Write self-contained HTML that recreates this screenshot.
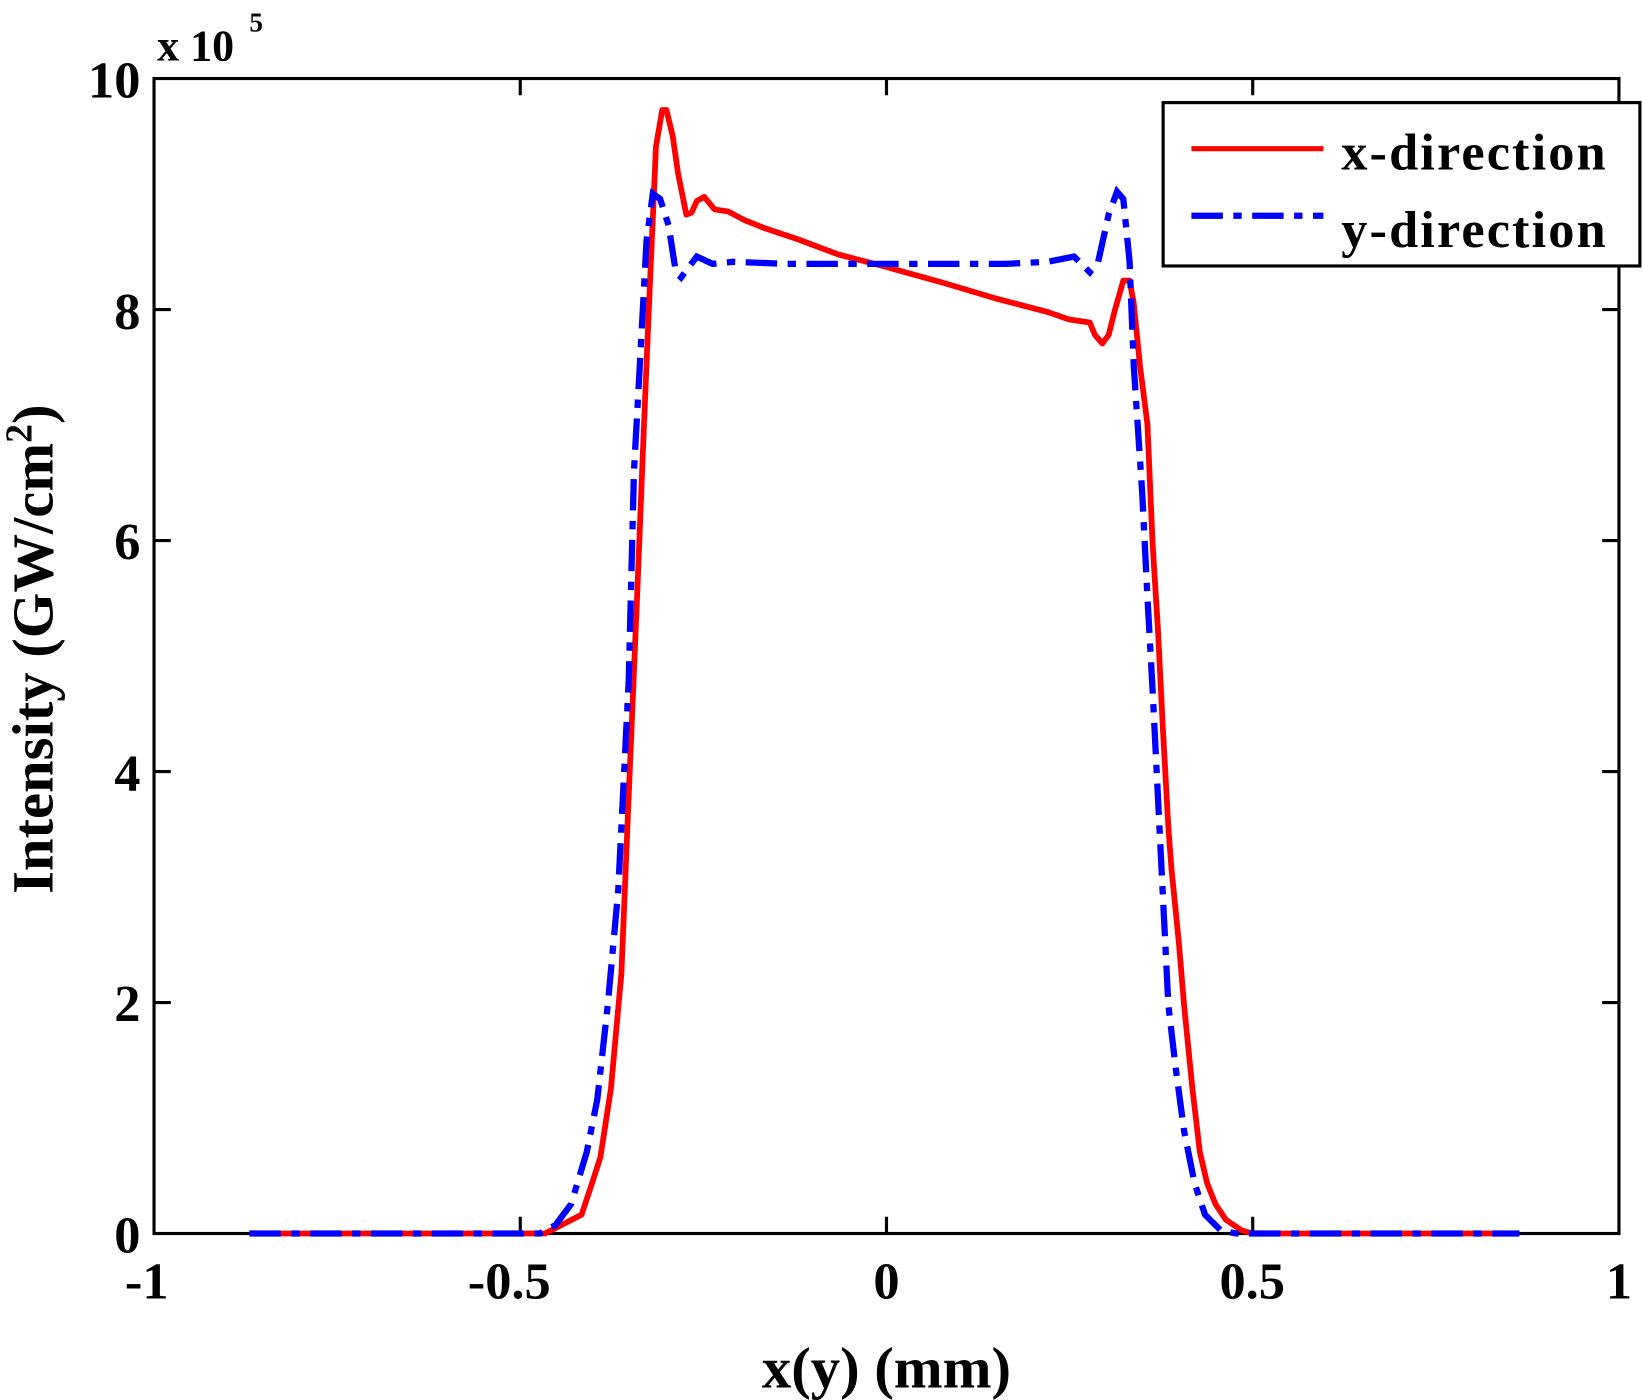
<!DOCTYPE html>
<html><head><meta charset="utf-8"><style>html,body{margin:0;padding:0;background:#fff}svg{display:block}</style></head>
<body>
<svg width="1642" height="1400" viewBox="0 0 1567 1337" preserveAspectRatio="none" xmlns="http://www.w3.org/2000/svg" font-family="'Liberation Serif',serif" font-weight="bold">
<rect width="1567" height="1337" fill="#fff"/>
<g stroke="#000" stroke-width="3" fill="none">
<rect x="147" y="75" width="1398" height="1103"/>
<path d="M496.5 1178v-16M846 1178v-16M1195.5 1178v-16M496.5 75v16M846 75v16M1195.5 75v16
M147 957.4h16M147 736.8h16M147 516.2h16M147 295.6h16M1545 957.4h-16M1545 736.8h-16M1545 516.2h-16M1545 295.6h-16"/>
</g>
<polyline fill="none" stroke="#f00" stroke-width="5.5" stroke-linejoin="round" points="238,1178 520,1178 555,1160 565,1130 573,1105 583,1040 593,930 600,760 608,570 614,420 619,300 626,140 632,105 636,105 642,130 647,165 655,205 660,203 665,192 672,188 682,200 695,202 710,210 730,218 760,228 800,243 846,255 900,270 950,285 1000,298 1020,305 1040,308 1045,320 1052,328 1058,320 1064,296 1072,268 1078,268 1082,290 1088,350 1095,405 1100,520 1105,600 1110,700 1115,790 1118,830 1125,900 1130,960 1138,1040 1145,1100 1152,1130 1160,1150 1170,1165 1185,1175 1195,1178 1450,1178"/>
<polyline fill="none" stroke="#00f" stroke-width="6" stroke-dasharray="30,10,8,10" points="238,1178 515,1178 530,1170 545,1150 560,1100 570,1050 580,960 590,850 600,650 605,450 610,360 617,230 623,185 630,190 638,215 645,260 650,265 665,245 680,252 700,250 750,252 960,252 1000,250 1025,245 1040,260 1048,250 1058,205 1066,183 1072,190 1078,250 1082,350 1090,470 1095,570 1100,660 1105,760 1110,860 1115,960 1122,1020 1130,1080 1140,1130 1150,1160 1165,1175 1180,1178 1450,1178"/>
<g font-size="50" text-anchor="end">
<text x="134" y="1196">0</text><text x="134" y="975">2</text><text x="134" y="755">4</text><text x="134" y="534">6</text><text x="134" y="314">8</text><text x="134" y="93">10</text>
</g>
<g font-size="50" text-anchor="middle">
<text x="140" y="1240">-1</text><text x="486" y="1240">-0.5</text><text x="846" y="1240">0</text><text x="1195" y="1240">0.5</text><text x="1545" y="1240">1</text>
</g>
<text x="150" y="58" font-size="42">x 10</text><text x="238" y="30" font-size="26">5</text>
<text x="846" y="1325" font-size="56" text-anchor="middle">x(y) (mm)</text>
<text transform="translate(50,620) rotate(-90)" font-size="56" text-anchor="middle">Intensity (GW/cm<tspan font-size="36" dy="-20">2</tspan><tspan dy="20">)</tspan></text>
<rect x="1110" y="98" width="455" height="156" fill="#fff" stroke="#000" stroke-width="3"/>
<line x1="1137" y1="142" x2="1263" y2="142" stroke="#f00" stroke-width="5"/>
<line x1="1137" y1="206" x2="1263" y2="206" stroke="#00f" stroke-width="6" stroke-dasharray="30,10,8,10"/>
<text x="1280" y="162" font-size="50" letter-spacing="2">x-direction</text>
<text x="1280" y="236" font-size="50" letter-spacing="2">y-direction</text>
</svg>
</body></html>
